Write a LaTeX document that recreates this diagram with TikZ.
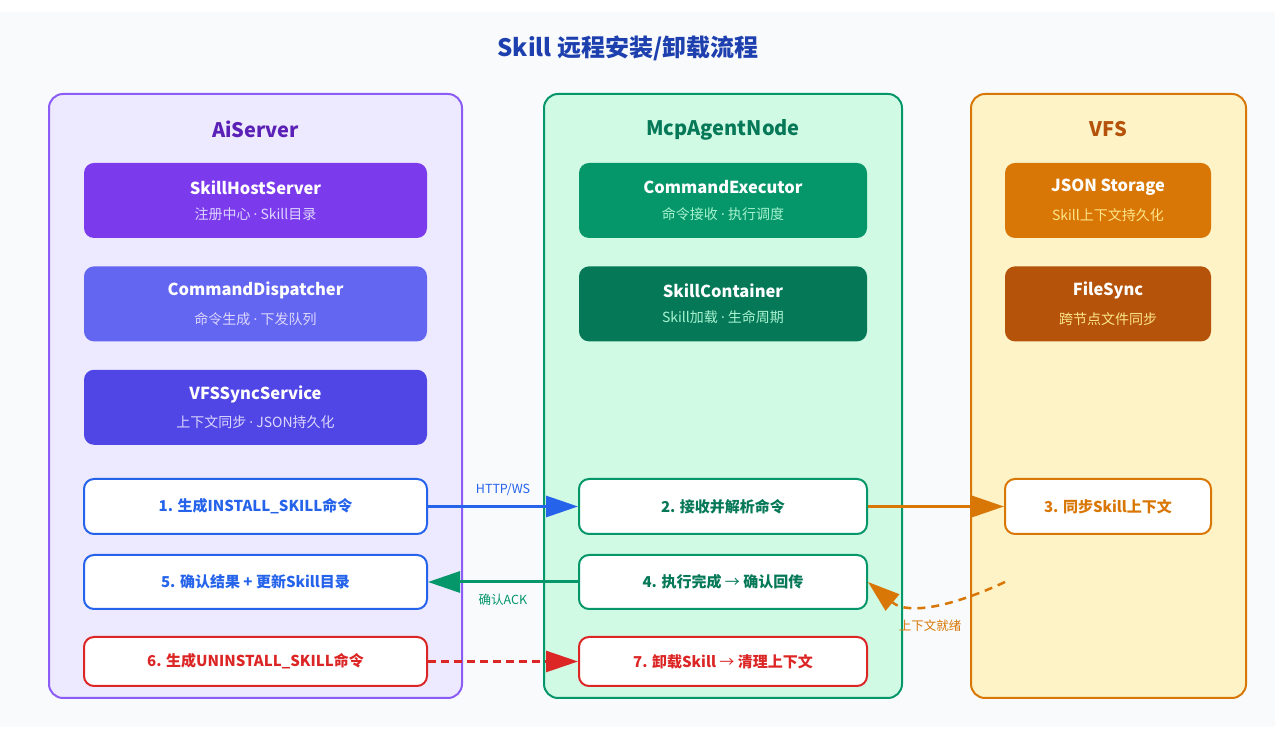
\documentclass[tikz,border=0pt]{standalone}
\usepackage{fontspec}
\setmainfont{Noto Sans CJK SC}
\newfontfamily\dotfont{Noto Sans}
\usetikzlibrary{positioning,arrows.meta}

\definecolor{pagebg}{HTML}{F8FAFC}
\definecolor{titleblue}{HTML}{1E40AF}
\definecolor{aiEdge}{HTML}{8B5CF6}
\definecolor{aiFill}{HTML}{EDE9FE}
\definecolor{aiTitle}{HTML}{5B21B6}
\definecolor{aiOne}{HTML}{7C3AED}
\definecolor{aiTwo}{HTML}{6366F1}
\definecolor{aiThree}{HTML}{4F46E5}
\definecolor{aiSub}{HTML}{DDD6FE}
\definecolor{mcpEdge}{HTML}{059669}
\definecolor{mcpFill}{HTML}{D1FAE5}
\definecolor{mcpTitle}{HTML}{047857}
\definecolor{mcpOne}{HTML}{059669}
\definecolor{mcpTwo}{HTML}{047857}
\definecolor{mcpSub}{HTML}{A7F3D0}
\definecolor{vfsEdge}{HTML}{D97706}
\definecolor{vfsFill}{HTML}{FEF3C7}
\definecolor{vfsTitle}{HTML}{B45309}
\definecolor{vfsOne}{HTML}{D97706}
\definecolor{vfsTwo}{HTML}{B45309}
\definecolor{vfsSub}{HTML}{FDE68A}
\definecolor{flowblue}{HTML}{2563EB}
\definecolor{flowgreen}{HTML}{059669}
\definecolor{floworange}{HTML}{D97706}
\definecolor{flowred}{HTML}{DC2626}

\newcommand{\sep}{ {\dotfont·} }
\newcommand{\comptext}[3]{{\fontsize{16.5}{20}\selectfont\bfseries #1}\\[12pt]{\fontsize{14}{16}\selectfont\color{#3}#2}}

\begin{document}
\begin{tikzpicture}[x=1pt, y=1pt, node distance=28pt,
    col/.style={draw, line width=2pt, rounded corners=14pt, minimum height=604pt},
    coltitle/.style={font=\fontsize{20}{24}\selectfont\bfseries},
    comp/.style={rounded corners=10pt, minimum height=75pt, align=center, text=white},
    stepbox/.style={draw, fill=white, line width=2pt, rounded corners=10pt, align=center, font=\fontsize{15}{18}\selectfont\bfseries},
    flow/.style={line width=3pt, -{Triangle[length=32pt, width=21pt]}},
    lbl/.style={font=\fontsize{12.5}{15}\selectfont}]
  \useasboundingbox (0,0) rectangle (1275,735);
  \fill[pagebg] (0,8) rectangle (1275,723);
  \node[text=titleblue, font=\fontsize{24}{28}\selectfont\bfseries] (title) at (628,687) {Skill 远程安装/卸载流程};

  \node[col, draw=aiEdge, fill=aiFill, minimum width=413pt] (ai) at (255.5,339) {};
  \node[col, draw=mcpEdge, fill=mcpFill, minimum width=358pt] (mcp) at (723,339) {};
  \node[col, draw=vfsEdge, fill=vfsFill, minimum width=275pt] (vfs) at (1108.5,339) {};
  \node[coltitle, text=aiTitle] (aiT) at (255.5,606) {AiServer};
  \node[coltitle, text=mcpTitle] (mcpT) at (723,605) {McpAgentNode};
  \node[coltitle, text=vfsTitle] (vfsT) at (1108.5,606) {VFS};

  \node[comp, fill=aiOne, minimum width=343pt] (hostsrv) at (255.5,534.5) {\comptext{SkillHostServer}{注册中心\sep Skill目录}{aiSub}};
  \node[comp, fill=aiTwo, minimum width=343pt, below=of hostsrv] (dispatch) {\comptext{CommandDispatcher}{命令生成\sep 下发队列}{aiSub}};
  \node[comp, fill=aiThree, minimum width=343pt, below=of dispatch] (syncsrv) {\comptext{VFSSyncService}{上下文同步\sep JSON持久化}{aiSub}};

  \node[comp, fill=mcpOne, minimum width=288pt] (executor) at (723,534.5) {\comptext{CommandExecutor}{命令接收\sep 执行调度}{mcpSub}};
  \node[comp, fill=mcpTwo, minimum width=288pt, below=of executor] (container) {\comptext{SkillContainer}{Skill加载\sep 生命周期}{mcpSub}};

  \node[comp, fill=vfsOne, minimum width=206pt] (jsonstore) at (1108,534.5) {\comptext{JSON Storage}{Skill上下文持久化}{vfsSub}};
  \node[comp, fill=vfsTwo, minimum width=206pt, below=of jsonstore] (filesync) {\comptext{FileSync}{跨节点文件同步}{vfsSub}};

  \node[stepbox, draw=flowblue, text=flowblue, minimum width=343pt, minimum height=55pt] (s1) at (255.5,228.5) {1. 生成INSTALL\_SKILL命令};
  \node[stepbox, draw=flowblue, text=flowblue, minimum width=343pt, minimum height=54pt] (s5) at (255.5,153) {5. 确认结果 + 更新Skill目录};
  \node[stepbox, draw=flowred, text=flowred, minimum width=343pt, minimum height=49pt] (s6) at (255.5,73.5) {6. 生成UNINSTALL\_SKILL命令};
  \node[stepbox, draw=mcpEdge, text=mcpTitle, minimum width=288pt, minimum height=55pt] (s2) at (723,228.5) {2. 接收并解析命令};
  \node[stepbox, draw=mcpEdge, text=mcpTitle, minimum width=288pt, minimum height=54pt] (s4) at (723,153) {4. 执行完成 {\mdseries→} 确认回传};
  \node[stepbox, draw=flowred, text=flowred, minimum width=288pt, minimum height=49pt] (s7) at (723,73.5) {7. 卸载Skill {\mdseries→} 清理上下文};
  \node[stepbox, draw=floworange, text=floworange, minimum width=206pt, minimum height=55pt] (s3) at (1108,228.5) {3. 同步Skill上下文};

  \draw[flow, flowblue] (s1) -- (s2) node[midway, above=6pt, lbl, text=flowblue] {HTTP/WS};
  \draw[flow, floworange] (s2) -- (s3);
  \draw[flow, flowgreen] (s4) -- (s5) node[midway, below=7pt, lbl, text=flowgreen] {确认ACK};
  \draw[flow, flowred, line width=2.5pt, dash pattern=on 8pt off 5pt] (s6) -- (s7);
  \coordinate (ready) at (1005,153);
  \draw[flow, floworange, line width=2.5pt, dash pattern=on 8pt off 6pt] (ready) to[out=205, in=-40] (s4.east);
  \node[lbl, text=floworange] (readyT) at (930,109) {上下文就绪};
\end{tikzpicture}
\end{document}
